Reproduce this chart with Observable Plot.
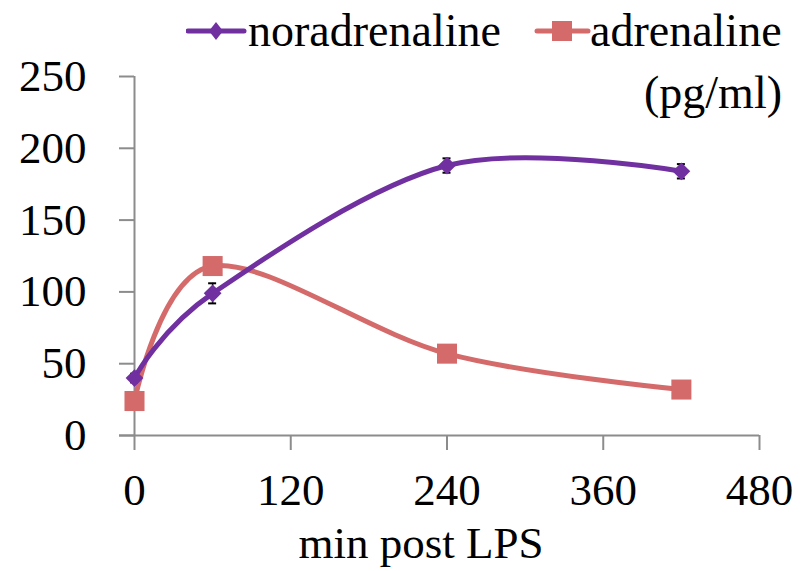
<!DOCTYPE html>
<html>
<head>
<meta charset="utf-8">
<script src="https://cdn.jsdelivr.net/npm/d3@7"></script>
<script src="https://cdn.jsdelivr.net/npm/@observablehq/plot@0.6"></script>
<style>
  html, body { margin: 0; padding: 0; background: white; }
  #wrap { position: relative; width: 809px; height: 571px; font-family: "Liberation Serif", "Tinos", "Times New Roman", "Times", "Nimbus Roman", "FreeSerif", "Noto Serif", "DejaVu Serif", serif; color: black; }
  .lg { position: absolute; font-size: 46px; line-height: 46px; white-space: nowrap; }
  .lgsym { position: absolute; }
</style>
</head>
<body>
<div id="wrap">
  <svg class="lgsym" style="left:186px;top:16px" width="62" height="30">
    <line x1="2" y1="15" x2="58" y2="15" stroke="#7030A0" stroke-width="5" stroke-linecap="round"/>
    <path d="M30,6 L37,15 L30,24 L23,15 Z" fill="#7030A0"/>
  </svg>
  <div class="lg" style="left:248px;top:8px">noradrenaline</div>
  <svg class="lgsym" style="left:534px;top:16px" width="58" height="30">
    <line x1="3" y1="15" x2="54" y2="15" stroke="#D46A6A" stroke-width="5" stroke-linecap="round"/>
    <rect x="18" y="5" width="20" height="20" fill="#D46A6A"/>
  </svg>
  <div class="lg" style="left:590px;top:8px">adrenaline</div>
  <div class="lg" style="left:644px;top:70px">(pg/ml)</div>
  <div id="chart" style="position:absolute;left:0;top:0"></div>
</div>
<script>
const times = [0, 60, 240, 420];
const noradrenaline = [40, 99, 188, 184];
const noradrenalineErr = [3, 7, 5, 5];
const adrenaline = [24, 118, 57, 32];
const xTicks = [0, 120, 240, 360, 480];
const yTicks = [0, 50, 100, 150, 200, 250];
const xLabel = "min post LPS";

const nor = times.map((t, i) => ({t, v: noradrenaline[i], e: noradrenalineErr[i]}));
const adr = times.map((t, i) => ({t, v: adrenaline[i]}));

const purple = "#7030A0";
const red = "#D46A6A";
const axisGray = "#8c8c8c";
const fontStack = "'Liberation Serif', 'Tinos', 'Times New Roman', 'Times', 'Nimbus Roman', 'FreeSerif', 'Noto Serif', 'DejaVu Serif', serif";

const chart = Plot.plot({
  width: 809,
  height: 571,
  marginLeft: 134,
  marginRight: 50,
  marginTop: 76,
  marginBottom: 136,
  style: {fontFamily: fontStack, fontSize: "45px", color: "black", background: "transparent", overflow: "visible"},
  x: {type: "linear", domain: [0, 480]},
  y: {type: "linear", domain: [0, 250]},
  marks: [
    Plot.ruleY([0], {stroke: axisGray, strokeWidth: 2, insetLeft: -15}),
    Plot.ruleX([0], {stroke: axisGray, strokeWidth: 2}),
    Plot.axisX({ticks: xTicks, tickSize: 15, tickPadding: 23, stroke: axisGray, strokeWidth: 2, fill: "black", label: null, tickFormat: d => String(d)}),
    Plot.axisY({ticks: yTicks, tickSize: 15, tickPadding: 33, stroke: axisGray, strokeWidth: 2, fill: "black", label: null, tickFormat: d => String(d)}),
    Plot.text([xLabel], {frameAnchor: "bottom", lineAnchor: "bottom", dy: 122, dx: -26, fill: "black", fontSize: 45}),
    Plot.line(adr, {x: "t", y: "v", stroke: red, strokeWidth: 5, curve: "cardinal"}),
    Plot.line(nor, {x: "t", y: "v", stroke: purple, strokeWidth: 5, curve: "cardinal"}),
    Plot.ruleX(nor, {x: "t", y1: d => d.v - d.e, y2: d => d.v + d.e, stroke: "black", strokeWidth: 1.5}),
    Plot.ruleY(nor, {x1: "t", x2: "t", y: d => d.v - d.e, stroke: "black", strokeWidth: 2, insetLeft: -4, insetRight: -4}),
    Plot.ruleY(nor, {x1: "t", x2: "t", y: d => d.v + d.e, stroke: "black", strokeWidth: 2, insetLeft: -4, insetRight: -4}),
    Plot.dot(nor, {x: "t", y: "v", symbol: "diamond2", r: 8, fill: purple, stroke: "none"}),
    Plot.dot(adr, {x: "t", y: "v", symbol: "square", r: 11.3, fill: red, stroke: "none"})
  ]
});
document.getElementById("chart").appendChild(chart);
</script>
</body>
</html>
